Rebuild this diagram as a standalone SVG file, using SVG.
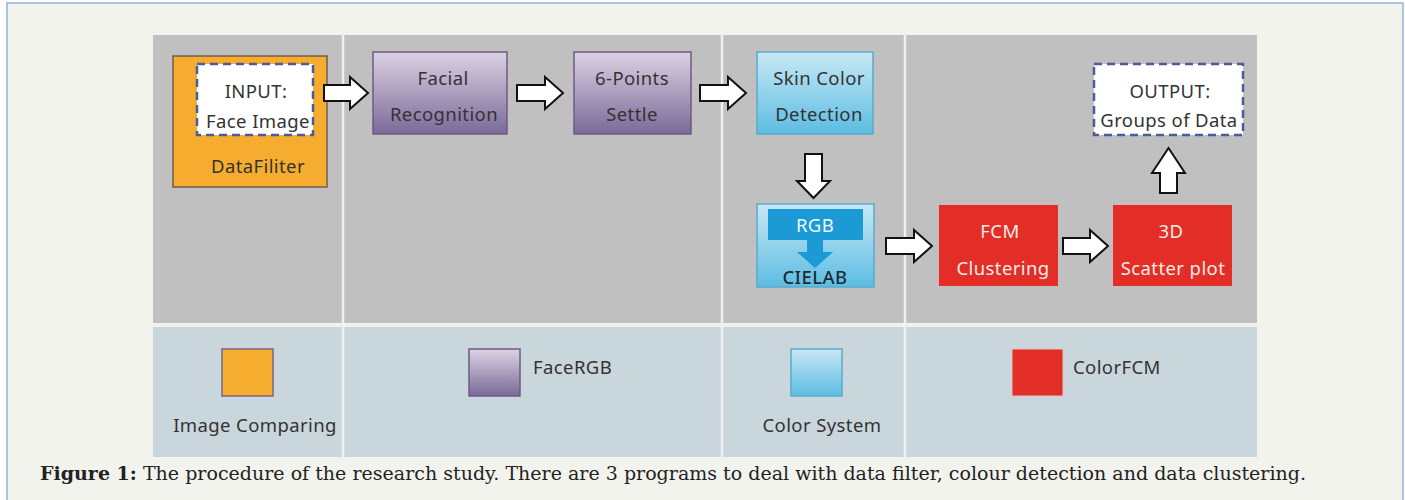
<svg xmlns="http://www.w3.org/2000/svg" width="1405" height="500" viewBox="0 0 1405 500">
<style>
  .t { font-family: "Noto Sans", "Liberation Sans", sans-serif; font-size: 18.5px; fill: #333; text-anchor: middle; dominant-baseline: central; letter-spacing: 0.4px; }
  .tw { fill: #f8ece6; }
  .tl { text-anchor: start; }
  .arrow { fill: #ffffff; stroke: #111; stroke-width: 2; stroke-linejoin: miter; }
  .div { stroke: #f0f0f0; stroke-width: 2.5; }
  .cap { font-family: "DejaVu Serif", "Liberation Serif", serif; font-size: 19px; fill: #222; }
</style>
<defs>
  <linearGradient id="gPurple" x1="0" y1="0" x2="0" y2="1">
    <stop offset="0" stop-color="#dcd2e4"/>
    <stop offset="1" stop-color="#7a6a98"/>
  </linearGradient>
  <linearGradient id="gBlue" x1="0" y1="0" x2="0" y2="1">
    <stop offset="0" stop-color="#c8e8f6"/>
    <stop offset="1" stop-color="#5cbde2"/>
  </linearGradient>
</defs>

<!-- frame -->
<rect x="7" y="3" width="1396" height="520" fill="#f3f3ee" stroke="#93b3dd" stroke-width="1.5"/>

<!-- panels -->
<rect x="153" y="35" width="1104" height="288" fill="#c0c0c0"/>
<rect x="153" y="327" width="1104" height="130" fill="#c9d6dc"/>
<line class="div" x1="153" y1="325" x2="1257" y2="325"/>
<line class="div" x1="343" y1="35" x2="343" y2="457"/>
<line class="div" x1="722" y1="35" x2="722" y2="457"/>
<line class="div" x1="905" y1="35" x2="905" y2="457"/>

<!-- nodes -->
<g id="datafilter">
  <rect x="173" y="56" width="154" height="131" fill="#f6ad2f" stroke="#6e5c4c" stroke-width="1.5"/>
  <text class="t" x="258" y="165">DataFiliter</text>
</g>
<g id="input">
  <rect x="197" y="64" width="116" height="71" fill="#ffffff" stroke="#4a5c9c" stroke-width="2.5" stroke-dasharray="8,5"/>
  <text class="t" x="256" y="90">INPUT:</text>
  <text class="t" x="258" y="120">Face Image</text>
</g>
<g id="facial">
  <rect x="373" y="52" width="134" height="82" fill="url(#gPurple)" stroke="#6c5b86" stroke-width="1.5"/>
  <text class="t" x="443" y="77">Facial</text>
  <text class="t" x="444" y="113">Recognition</text>
</g>
<g id="sixpoints">
  <rect x="574" y="52" width="117" height="82" fill="url(#gPurple)" stroke="#6c5b86" stroke-width="1.5"/>
  <text class="t" x="632" y="77">6-Points</text>
  <text class="t" x="632" y="113">Settle</text>
</g>
<g id="skincolor">
  <rect x="757" y="52" width="116" height="82" fill="url(#gBlue)" stroke="#58abcb" stroke-width="1.5"/>
  <text class="t" x="819" y="77">Skin Color</text>
  <text class="t" x="819" y="113">Detection</text>
</g>
<g id="rgbcielab">
  <rect x="757" y="204" width="117" height="83" fill="url(#gBlue)" stroke="#58abcb" stroke-width="1.5"/>
  <rect x="768" y="209" width="95" height="31" fill="#1b9ad6"/>
  <path d="M807,239 L823,239 L823,252 L833,252 L815,268 L797,252 L807,252 Z" fill="#1b9ad6"/>
  <text class="t" x="815" y="224" style="fill:#eef7fc">RGB</text>
  <text class="t" x="815" y="276" style="fill:#1e2a33;font-weight:500">CIELAB</text>
</g>
<g id="fcm">
  <rect x="939" y="205" width="119" height="81" fill="#e32d27"/>
  <text class="t tw" x="1000" y="230">FCM</text>
  <text class="t tw" x="1003" y="267">Clustering</text>
</g>
<g id="scatter">
  <rect x="1113" y="205" width="119" height="81" fill="#e32d27"/>
  <text class="t tw" x="1171" y="230">3D</text>
  <text class="t tw" x="1173" y="267">Scatter plot</text>
</g>
<g id="output">
  <rect x="1094" y="64" width="149" height="71" fill="#ffffff" stroke="#4a5c9c" stroke-width="2.5" stroke-dasharray="8,5"/>
  <text class="t" x="1170" y="90">OUTPUT:</text>
  <text class="t" x="1169" y="119">Groups of Data</text>
</g>

<!-- connectors -->
<g id="connectors">
  <path class="arrow" d="M324,85 L350,85 L350,77 L368,93 L350,109 L350,101 L324,101 Z"/>
  <path class="arrow" d="M517,85 L545,85 L545,77 L563,93 L545,109 L545,101 L517,101 Z"/>
  <path class="arrow" d="M700,85 L728,85 L728,77 L746,93 L728,109 L728,101 L700,101 Z"/>
  <path class="arrow" d="M805,154 L822,154 L822,181 L830,181 L813.5,198 L797,181 L805,181 Z"/>
  <path class="arrow" d="M886,238 L914,238 L914,230 L932,246 L914,262 L914,254 L886,254 Z"/>
  <path class="arrow" d="M1063,238 L1090,238 L1090,230 L1108,246 L1090,262 L1090,254 L1063,254 Z"/>
  <path class="arrow" d="M1160,193 L1177,193 L1177,173 L1185,173 L1168.5,148 L1152,173 L1160,173 Z"/>
</g>

<!-- legend -->
<g id="legend-image-comparing">
  <rect x="222" y="349" width="51" height="47" fill="#f6ad2f" stroke="#75658a" stroke-width="1.5"/>
  <text class="t" x="255" y="424">Image Comparing</text>
</g>
<g id="legend-facergb">
  <rect x="469" y="349" width="51" height="47" fill="url(#gPurple)" stroke="#6c5b86" stroke-width="1.5"/>
  <text class="t tl" x="533" y="366">FaceRGB</text>
</g>
<g id="legend-colorsystem">
  <rect x="791" y="349" width="51" height="47" fill="url(#gBlue)" stroke="#58abcb" stroke-width="1.5"/>
  <text class="t" x="822" y="424">Color System</text>
</g>
<g id="legend-colorfcm">
  <rect x="1012" y="349" width="51" height="47" fill="#e32d27" stroke="#d9c8c4" stroke-width="1"/>
  <text class="t tl" x="1073" y="366">ColorFCM</text>
</g>

<!-- caption -->
<text class="cap" x="40" y="480" textLength="1266" lengthAdjust="spacing"><tspan font-weight="bold">Figure 1:</tspan> The procedure of the research study. There are 3 programs to deal with data filter, colour detection and data clustering.</text>
</svg>
